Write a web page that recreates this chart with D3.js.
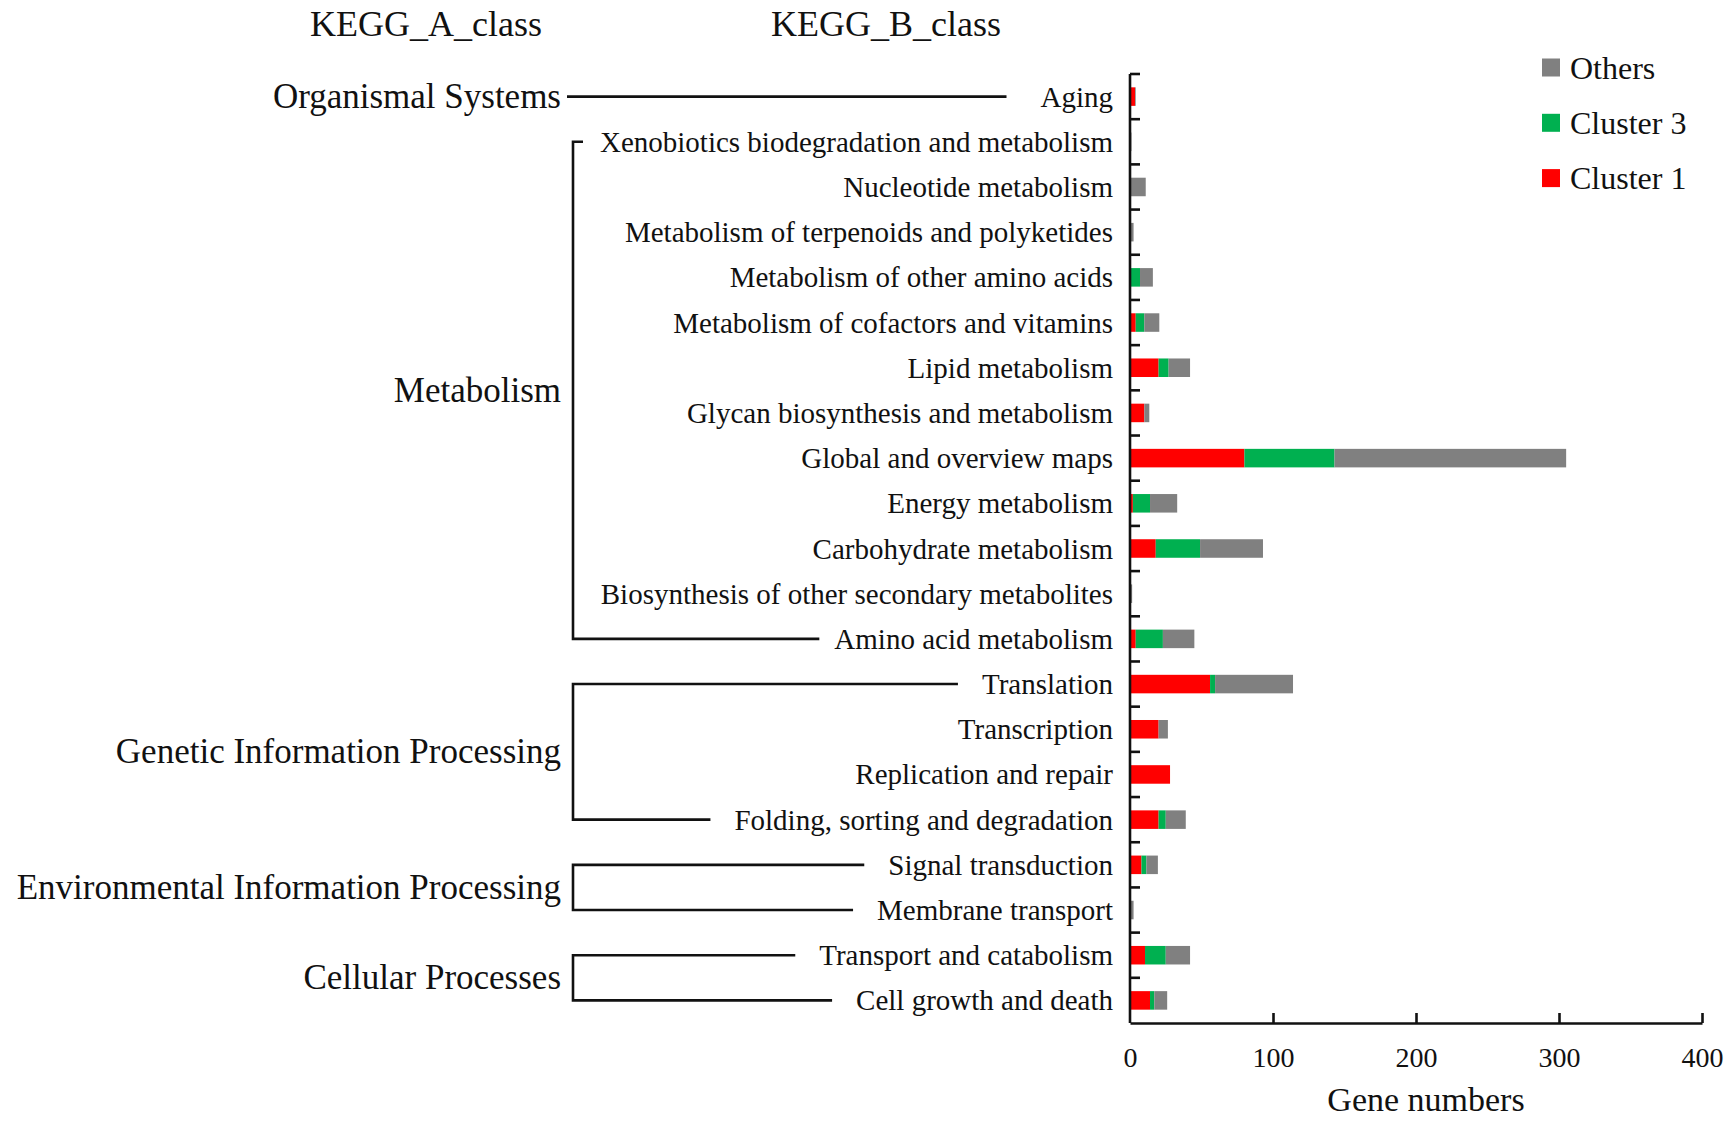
<!DOCTYPE html>
<html>
<head>
<meta charset="utf-8">
<script src="https://cdn.jsdelivr.net/npm/d3@7"></script>
<style>
  html, body { margin: 0; padding: 0; background: #fff; }
  svg text { font-family: "Liberation Serif", "Times New Roman", serif; fill: #111; }
</style>
</head>
<body>
<svg id="chart" width="1736" height="1127"></svg>
<script>
// ---- Data ----
const categories = [
  "Aging",
  "Xenobiotics biodegradation and metabolism",
  "Nucleotide metabolism",
  "Metabolism of terpenoids and polyketides",
  "Metabolism of other amino acids",
  "Metabolism of cofactors and vitamins",
  "Lipid metabolism",
  "Glycan biosynthesis and metabolism",
  "Global and overview maps",
  "Energy metabolism",
  "Carbohydrate metabolism",
  "Biosynthesis of other secondary metabolites",
  "Amino acid metabolism",
  "Translation",
  "Transcription",
  "Replication and repair",
  "Folding, sorting and degradation",
  "Signal transduction",
  "Membrane transport",
  "Transport and catabolism",
  "Cell growth and death"
];
const cluster1 = [3.5, 0, 0, 0, 0, 4, 20, 10, 80, 2, 18, 0, 4, 56, 20, 28, 20, 8, 0, 10.5, 14];
const cluster3 = [0, 0, 0, 0, 7, 6, 7, 0, 63, 12, 31, 0, 19, 3.5, 0, 0, 5, 3.5, 0, 14.5, 3];
const others   = [0.5, 1, 11, 2.5, 9, 10.5, 15, 3.5, 162, 19, 44, 1.5, 22, 54.5, 6.5, 0, 14, 8, 2.5, 17, 9];
const seriesNames = ["Cluster 1", "Cluster 3", "Others"];
const seriesColors = ["#ff0000", "#00b050", "#808080"];
const xTicks = [0, 100, 200, 300, 400];
const aClasses = ["Organismal Systems", "Metabolism", "Genetic Information Processing",
                  "Environmental Information Processing", "Cellular Processes"];
const aClassFirst = [0, 1, 13, 17, 19];
const aClassLast  = [0, 12, 16, 18, 20];
const headers = ["KEGG_A_class", "KEGG_B_class"];
const xTitle = "Gene numbers";

// ---- Layout ----
const svg = d3.select("#chart");
const x0 = 1130, x1 = 1702, yTop = 74, yBot = 1023;

const x = d3.scaleLinear().domain([0, 400]).range([x0, x1]);
const y = d3.scaleBand().domain(categories).range([yTop, yBot])
  .paddingInner(0.59).paddingOuter(0.295);
const step = y.step();
const yc = d => y(d) + y.bandwidth() / 2;

const rows = categories.map((c, i) => ({cat: c, "Cluster 1": cluster1[i], "Cluster 3": cluster3[i], "Others": others[i]}));
const stack = d3.stack().keys(seriesNames)(rows);

// bars
svg.append("g").selectAll("g").data(stack).join("g")
  .attr("fill", (d, i) => seriesColors[i])
  .selectAll("rect").data(d => d).join("rect")
  .attr("x", d => x(d[0]))
  .attr("width", d => Math.max(0, x(d[1]) - x(d[0])))
  .attr("y", d => y(d.data.cat))
  .attr("height", y.bandwidth());

// x axis
const xAxis = d3.axisBottom(x).tickValues(xTicks).tickSize(-10).tickSizeOuter(0).tickPadding(24);
const gx = svg.append("g").attr("transform", `translate(0,${yBot})`).call(xAxis);
gx.select(".domain").attr("stroke", "#111").attr("stroke-width", 2.6);
gx.selectAll(".tick line").attr("stroke", "#111").attr("stroke-width", 2.6)
  .attr("opacity", d => d === 0 ? 0 : 1);
gx.selectAll(".tick text").attr("font-size", 28).attr("font-family", "Liberation Serif").attr("fill", "#111");

// y axis line + inward ticks at category boundaries
svg.append("line").attr("x1", x0).attr("x2", x0).attr("y1", yTop).attr("y2", yBot)
  .attr("stroke", "#111").attr("stroke-width", 2.6);
const bounds = d3.range(categories.length).map(i => y(categories[i]) - step * y.paddingInner() / 2);
svg.append("g").selectAll("line").data(bounds).join("line")
  .attr("x1", x0).attr("x2", x0 + 10).attr("y1", d => d).attr("y2", d => d)
  .attr("stroke", "#111").attr("stroke-width", 2.6);

// B class labels
const labelRight = 1113;
const bLabels = svg.append("g").selectAll("text").data(categories).join("text")
  .attr("x", labelRight).attr("y", d => yc(d))
  .attr("text-anchor", "end").attr("dominant-baseline", "central")
  .attr("font-size", 29).text(d => d);
const labelStart = {};
bLabels.each(function(d) { labelStart[d] = labelRight - this.getComputedTextLength(); });

// A class brackets and labels
const aRight = 561;
const bracketX = 573;
aClasses.forEach((name, k) => {
  const fi = aClassFirst[k], li = aClassLast[k];
  const yA = yc(categories[fi]), yB = yc(categories[li]);
  const g = svg.append("g");
  if (fi === li) {
    g.append("line").attr("x1", 567).attr("x2", labelStart[categories[fi]] - 34)
      .attr("y1", yA).attr("y2", yA).attr("stroke", "#111").attr("stroke-width", 2.6);
  } else {
    const topEnd = name === "Metabolism" ? bracketX + 10 : labelStart[categories[fi]] - 24;
    const botEnd = name === "Metabolism" ? labelStart[categories[li]] - 15 : labelStart[categories[li]] - 24;
    g.append("path")
      .attr("d", `M${topEnd},${yA} H${bracketX} V${yB} H${botEnd}`)
      .attr("fill", "none").attr("stroke", "#111").attr("stroke-width", 2.6);
  }
  g.append("text").attr("x", aRight).attr("y", (yA + yB) / 2)
    .attr("text-anchor", "end").attr("dominant-baseline", "central")
    .attr("font-size", 35).text(name);
});

// headers
svg.append("text").attr("x", 426).attr("y", 24).attr("text-anchor", "middle")
  .attr("dominant-baseline", "central").attr("font-size", 36).text(headers[0]);
svg.append("text").attr("x", 886).attr("y", 24).attr("text-anchor", "middle")
  .attr("dominant-baseline", "central").attr("font-size", 36).text(headers[1]);

// x title
svg.append("text").attr("x", 1426).attr("y", 1099).attr("text-anchor", "middle")
  .attr("dominant-baseline", "central").attr("font-size", 34).text(xTitle);

// legend (Others, Cluster 3, Cluster 1 top to bottom)
const legendOrder = [2, 1, 0];
const lg = svg.append("g").selectAll("g").data(legendOrder).join("g")
  .attr("transform", (d, i) => `translate(1542,${67.5 + i * 55.3})`);
lg.append("rect").attr("x", 0).attr("y", -9).attr("width", 18).attr("height", 18)
  .attr("fill", d => seriesColors[d]);
lg.append("text").attr("x", 28).attr("y", 0).attr("dominant-baseline", "central")
  .attr("font-size", 32).text(d => seriesNames[d]);
</script>
</body>
</html>
